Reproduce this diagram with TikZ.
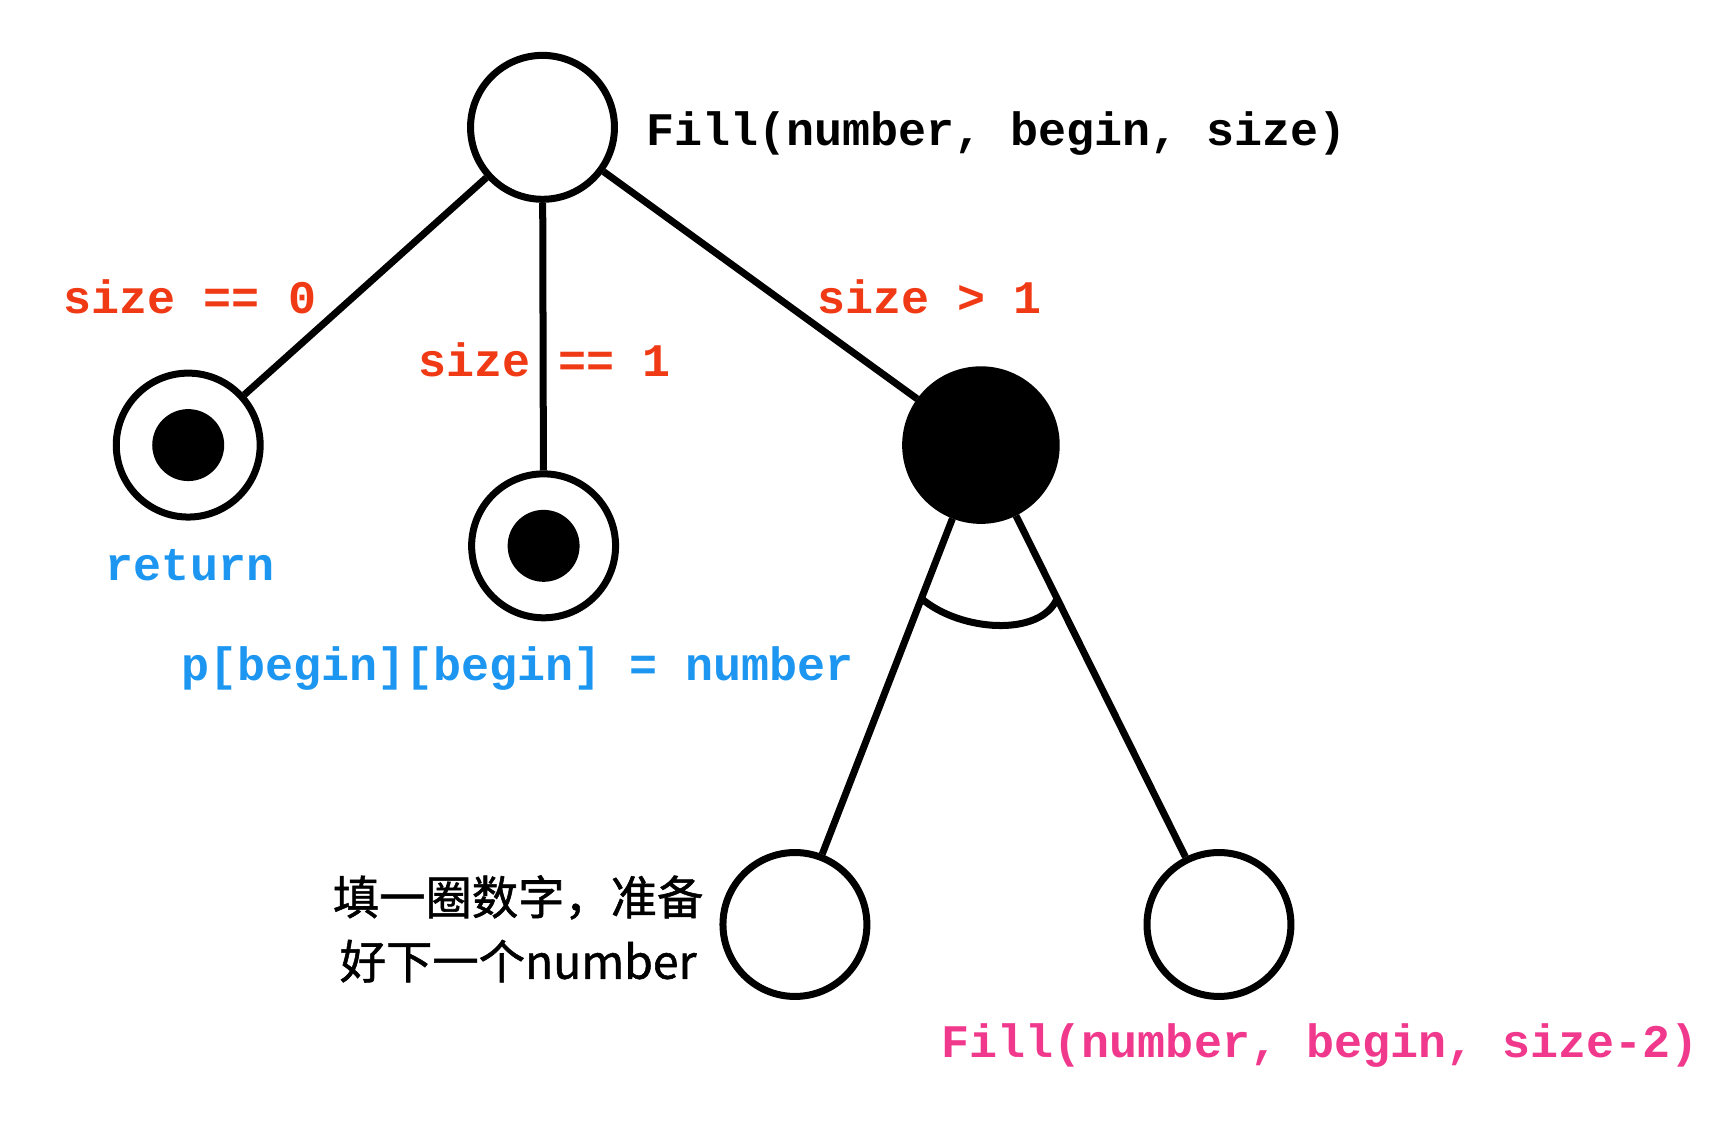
\documentclass[tikz,border=0pt]{standalone}
\usepackage{fontspec}
\setmonofont{Liberation Mono}
\newfontfamily\cjk{Noto Sans CJK SC}[BoldFont = {Noto Sans CJK SC}, BoldFeatures = {FakeBold = 1.2}]
\usetikzlibrary{
    calc
}
\definecolor{condred}{RGB}{240,58,22}
\definecolor{actblue}{RGB}{28,150,240}
\definecolor{callpink}{RGB}{240,56,140}
\tikzset {
    call/.style = {circle, draw, line width = 1.8pt, minimum size = 1.3cm, inner sep = 0pt},
    leaf/.style = {
        call,
        path picture = {
            \fill (path picture bounding box.center) circle (0.325cm);
        }
    },
    branch/.style = {call, fill, minimum size = 1.36cm},
    edge/.style = {line width = 1.8pt},
    code/.style = {
        font = \fontsize{12pt}{14pt}\selectfont\ttfamily\bfseries,
        inner sep = 0pt,
        anchor = base west
    },
    note/.style = {
        font = \cjk\fontsize{11.9pt}{16.5pt}\selectfont\bfseries,
        align = center,
        inner sep = 0pt
    }
}
\begin{document}
\begin{tikzpicture}
            \useasboundingbox (0, 0) rectangle (15.68, -10.21);
            \node (top) [call] at (4.90, -1.15) {};
            \node (ret) [leaf] at (1.70, -4.02) {};
            \node (one) [leaf] at (4.91, -4.93) {};
            \node (split) [branch] at (8.86, -4.02) {};
            \node (ring) [call] at (7.18, -8.35) {};
            \node (rest) [call] at (11.01, -8.35) {};
            \draw [edge] (top) -- (ret);
            \draw [edge] (top) -- (one);
            \draw [edge] (top) -- (split);
            \draw [edge] (split) -- (ring);
            \draw [edge] (split) -- (rest);
            % arc joining the two recursive branches
            \coordinate (u) at ($ (split)!0.32!(ring) $);
            \coordinate (v) at ($ (split)!0.32!(rest) $);
            \draw [edge] (u) .. controls +(0.35, -0.3) and +(-0.15, -0.35) .. (v);
            \node (sig) [code] at (5.83, -1.31) {Fill(number, begin, size)};
            \node (c0) [code, condred] at (0.57, -2.83) {size == 0};
            \node (c1) [code, condred] at (3.77, -3.40) {size == 1};
            \node (c2) [code, condred] at (7.38, -2.83) {size > 1};
            \node (a0) [code, actblue] at (0.95, -5.24) {return};
            \node (a1) [code, actblue] at (1.63, -6.15) {p[begin][begin] = number};
            \node (sub) [code, callpink] at (8.50, -9.55) {Fill(number, begin, size-2)};
            \node (txt) [note] at (4.68, -8.39) {填一圈数字，准备\\好下一个number};
        \end{tikzpicture}
\end{document}
